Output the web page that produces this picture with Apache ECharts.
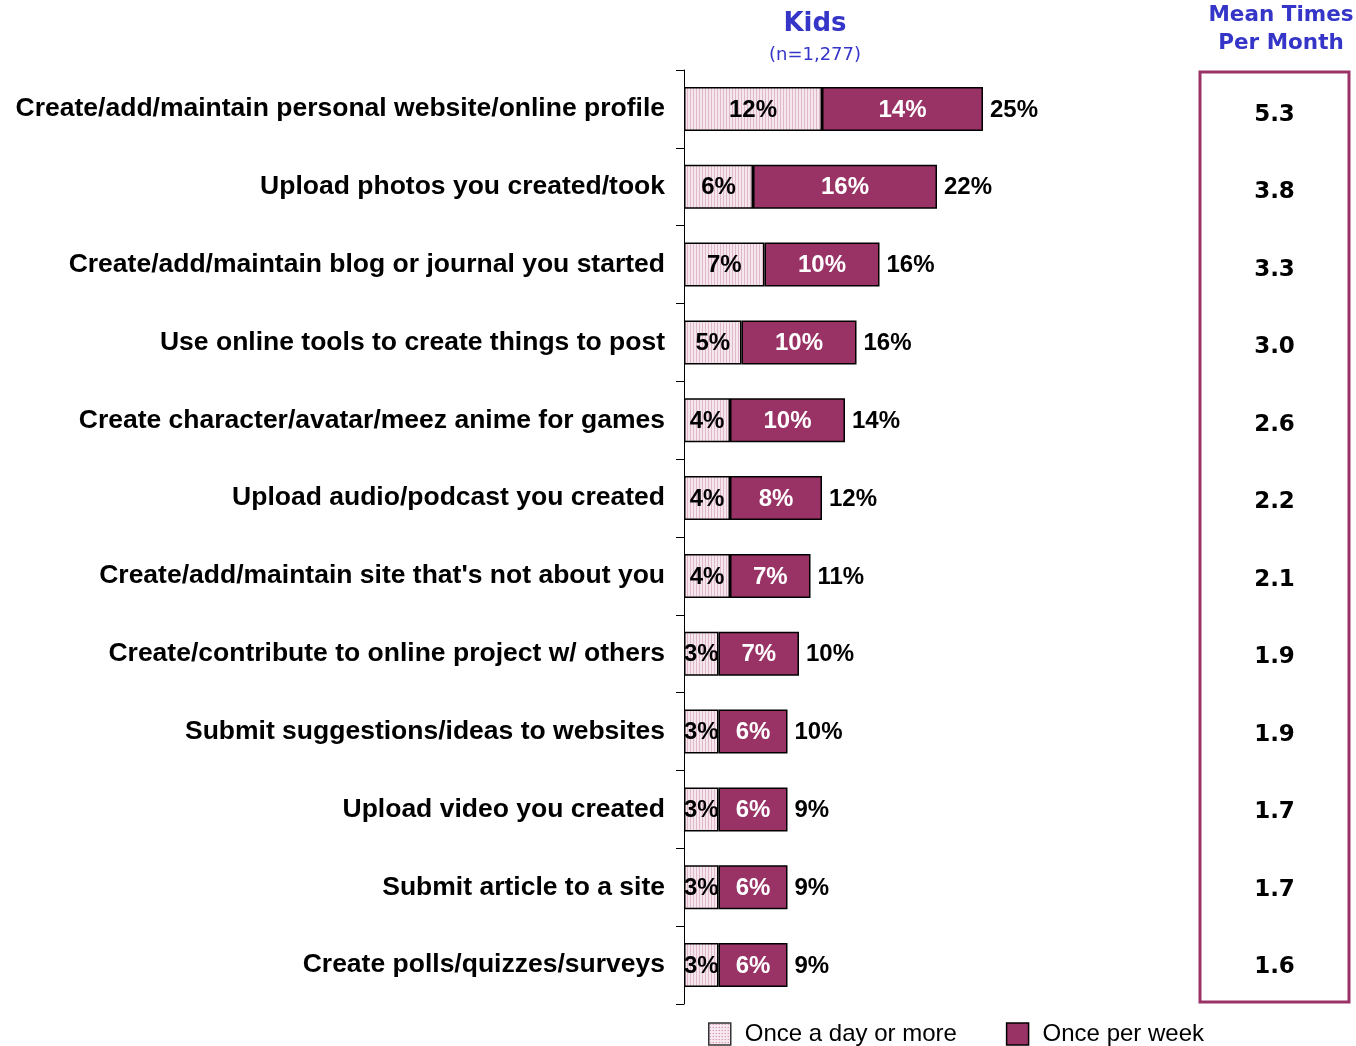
<!DOCTYPE html>
<html>
<head>
<meta charset="utf-8">
<script src="https://cdn.jsdelivr.net/npm/echarts@6/dist/echarts.min.js"></script>
<style>
  html, body { margin: 0; padding: 0; background: #ffffff; }
  #chart { width: 1356px; height: 1046px; }
</style>
</head>
<body>
<div id="chart"></div>
<script>
// Activities, top to bottom
const categories = [
  'Create/add/maintain personal website/online profile',
  'Upload photos you created/took',
  'Create/add/maintain blog or journal you started',
  'Use online tools to create things to post',
  'Create character/avatar/meez anime for games',
  'Upload audio/podcast you created',
  "Create/add/maintain site that's not about you",
  'Create/contribute to online project w/ others',
  'Submit suggestions/ideas to websites',
  'Upload video you created',
  'Submit article to a site',
  'Create polls/quizzes/surveys'
];
// Share of kids (%)
const onceADay = [12, 6, 7, 5, 4, 4, 4, 3, 3, 3, 3, 3];
const oncePerWeek = [14, 16, 10, 10, 10, 8, 7, 7, 6, 6, 6, 6];
const totals = [25, 22, 16, 16, 14, 12, 11, 10, 10, 9, 9, 9];
// Mean times per month
const meanTimes = [5.3, 3.8, 3.3, 3.0, 2.6, 2.2, 2.1, 1.9, 1.9, 1.7, 1.7, 1.6];

const PLUM = '#993366';
const BLUE = '#3535c8';

// fine vertical stripes for the daily segment
function stripePattern() {
  const c = document.createElement('canvas');
  c.width = 3; c.height = 3;
  const g = c.getContext('2d');
  g.fillStyle = '#f6e6ee';
  g.fillRect(0, 0, 3, 3);
  g.fillStyle = '#dfb8ca';
  g.fillRect(0, 0, 1, 3);
  return c;
}
// dotted swatch for the legend
function dotPattern() {
  const c = document.createElement('canvas');
  c.width = 3; c.height = 3;
  const g = c.getContext('2d');
  g.fillStyle = '#f7e7ef';
  g.fillRect(0, 0, 3, 3);
  g.fillStyle = '#c77d9f';
  g.fillRect(1, 1, 1, 1);
  return c;
}

const stripeFill = { image: stripePattern(), repeat: 'repeat' };
const dotFill = { image: dotPattern(), repeat: 'repeat' };

const chart = echarts.init(document.getElementById('chart'), null, { renderer: 'canvas' });

const segLabel = (color) => ({
  show: true,
  position: 'inside',
  offset: [0, 1],
  formatter: '{c}%',
  color: color,
  fontFamily: 'Liberation Sans, Arial, sans-serif',
  fontWeight: 'bold',
  fontSize: 24,
  textBorderWidth: 0
});

chart.setOption({
  animation: false,
  backgroundColor: '#ffffff',
  grid: [
    { left: 684, top: 70, width: 506, bottom: 42 },
    { left: 1200, top: 72, width: 149, bottom: 44, show: true,
      borderColor: PLUM, borderWidth: 3, backgroundColor: 'transparent' }
  ],
  xAxis: [
    { gridIndex: 0, type: 'value', min: 0, max: 44, show: false },
    { gridIndex: 1, type: 'value', min: 0, max: 1, show: false }
  ],
  yAxis: [
    {
      gridIndex: 0,
      type: 'category',
      data: categories,
      inverse: true,
      axisLine: { show: true, lineStyle: { color: '#000', width: 1 } },
      axisTick: { show: true, length: 8, lineStyle: { color: '#000', width: 1 } },
      axisLabel: {
        margin: 19,
        color: '#000',
        fontFamily: 'Liberation Sans, Arial, sans-serif',
        fontWeight: 'bold',
        fontSize: 26.5
      }
    },
    { gridIndex: 1, type: 'category', data: categories, inverse: true, show: false }
  ],
  legend: {
    left: 703,
    top: 1017,
    itemWidth: 22,
    itemHeight: 22,
    itemGap: 49,
    icon: 'rect',
    textStyle: {
      color: '#000',
      fontFamily: 'Liberation Sans, Arial, sans-serif',
      fontSize: 24,
      padding: [0, 0, 0, 9]
    },
    data: [
      { name: 'Once a day or more', itemStyle: { color: dotFill, borderColor: '#333', borderWidth: 1.5 } },
      { name: 'Once per week', itemStyle: { color: PLUM, borderColor: '#000', borderWidth: 1.5 } }
    ]
  },
  graphic: [
    { type: 'text', x: 815, y: 24, style: { text: 'Kids', fill: BLUE,
      font: 'bold 26px "DejaVu Sans", Verdana, sans-serif', textAlign: 'center', textVerticalAlign: 'middle' } },
    { type: 'text', x: 815, y: 55, style: { text: '(n=1,277)', fill: BLUE,
      font: '18px "DejaVu Sans", Verdana, sans-serif', textAlign: 'center', textVerticalAlign: 'middle' } },
    { type: 'text', x: 1281, y: 15, style: { text: 'Mean Times', fill: BLUE,
      font: 'bold 21.5px "DejaVu Sans", Verdana, sans-serif', textAlign: 'center', textVerticalAlign: 'middle' } },
    { type: 'text', x: 1281, y: 43, style: { text: 'Per Month', fill: BLUE,
      font: 'bold 21.5px "DejaVu Sans", Verdana, sans-serif', textAlign: 'center', textVerticalAlign: 'middle' } }
  ],
  series: [
    {
      name: 'Once a day or more',
      type: 'bar',
      stack: 'kids',
      barWidth: 44,
      data: onceADay,
      itemStyle: { color: stripeFill, borderColor: '#000', borderWidth: 1.5 },
      label: segLabel('#000')
    },
    {
      name: 'Once per week',
      type: 'bar',
      stack: 'kids',
      barWidth: 44,
      data: oncePerWeek,
      itemStyle: { color: PLUM, borderColor: '#000', borderWidth: 1.5 },
      label: segLabel('#fff')
    },
    {
      // zero-width cap carrying the net total beside each bar
      name: 'Total',
      type: 'bar',
      stack: 'kids',
      barWidth: 44,
      data: totals.map(() => 0),
      itemStyle: { color: 'transparent', borderWidth: 0 },
      label: {
        show: true,
        position: 'right',
        distance: 7,
        offset: [0, 1],
        formatter: (p) => totals[p.dataIndex] + '%',
        color: '#000',
        fontFamily: 'Liberation Sans, Arial, sans-serif',
        fontWeight: 'bold',
        fontSize: 24
      }
    },
    {
      name: 'Mean',
      type: 'scatter',
      xAxisIndex: 1,
      yAxisIndex: 1,
      symbolSize: 0,
      itemStyle: { opacity: 1 },
      data: meanTimes.map((v, i) => [0.5, categories[i]]),
      label: {
        show: true,
        position: 'inside',
        offset: [0, 4],
        formatter: (p) => meanTimes[p.dataIndex].toFixed(1),
        color: '#000',
        fontFamily: '"DejaVu Sans", Verdana, sans-serif',
        fontWeight: 'bold',
        fontSize: 23
      }
    }
  ]
});
</script>
</body>
</html>
